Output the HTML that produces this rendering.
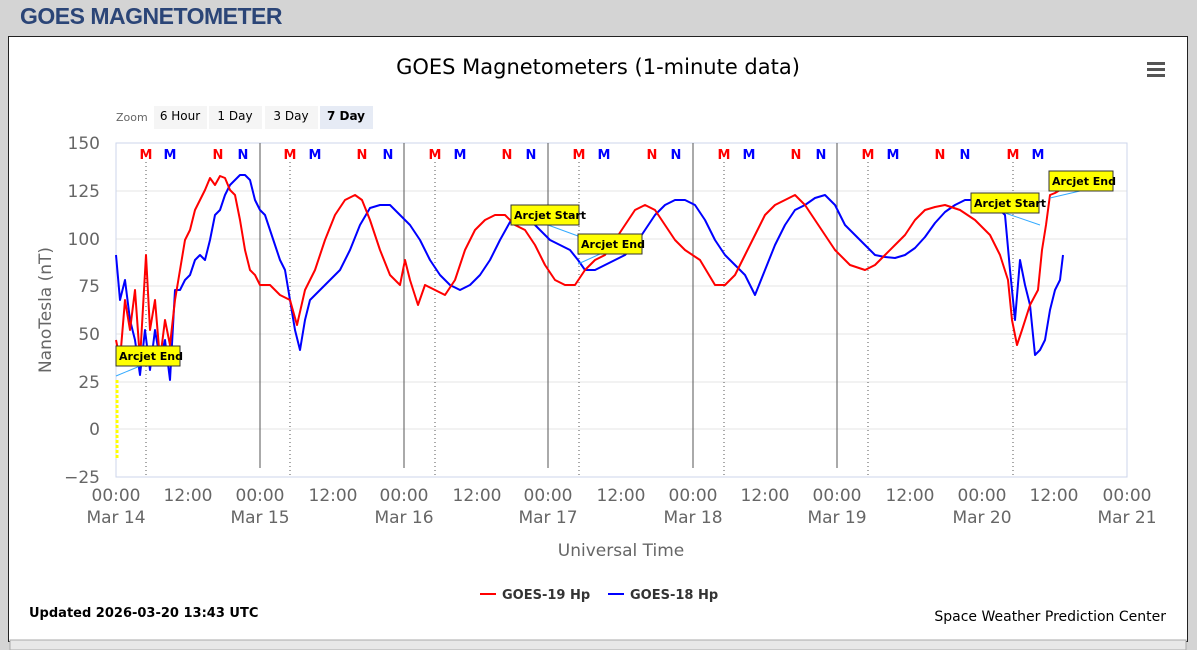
<!DOCTYPE html>
<html><head><style>
body{margin:0;width:1197px;height:650px;background:#d4d4d4;overflow:hidden;font-family:"DejaVu Sans","Liberation Sans",sans-serif;}
.h{position:absolute;left:20px;top:3px;font:bold 23px "Liberation Sans",sans-serif;color:#2b4577;letter-spacing:-0.5px}
.panel{position:absolute;left:8px;top:36px;width:1178px;height:604px;background:#fff;border:1px solid #222;}
svg{position:absolute;left:0;top:0}
</style></head><body>
<div class="h">GOES MAGNETOMETER</div>
<div class="panel"></div>
<svg width="1197" height="650" font-family="DejaVu Sans, Liberation Sans, sans-serif">
<rect x="10" y="640" width="1176" height="10" fill="#e8e8e8" stroke="#aaa"/>
<text x="598" y="74" font-size="21" text-anchor="middle" fill="#000">GOES Magnetometers (1-minute data)</text>
<g fill="#555"><rect x="1147" y="62" width="18" height="3"/><rect x="1147" y="68" width="18" height="3"/><rect x="1147" y="74" width="18" height="3"/></g>
<text x="116" y="121" font-size="11" fill="#666">Zoom</text>
<rect x="154" y="106" width="53" height="23" fill="#f5f5f5"/><text x="180" y="120" font-size="12" text-anchor="middle">6 Hour</text>
<rect x="209" y="106" width="53" height="23" fill="#f5f5f5"/><text x="235" y="120" font-size="12" text-anchor="middle">1 Day</text>
<rect x="265" y="106" width="53" height="23" fill="#f5f5f5"/><text x="291" y="120" font-size="12" text-anchor="middle">3 Day</text>
<rect x="320" y="106" width="53" height="23" fill="#e6ebf5"/><text x="346" y="120" font-size="12" font-weight="bold" text-anchor="middle">7 Day</text>
<g stroke="#e6e6e6"><line x1="116" x2="1127" y1="191" y2="191"/><line x1="116" x2="1127" y1="239" y2="239"/><line x1="116" x2="1127" y1="286" y2="286"/><line x1="116" x2="1127" y1="334" y2="334"/><line x1="116" x2="1127" y1="382" y2="382"/><line x1="116" x2="1127" y1="429" y2="429"/></g>
<rect x="116" y="143" width="1011" height="334" fill="none" stroke="#ccd6eb"/>
<g fill="#666" font-size="17" text-anchor="end"><text x="100" y="149">150</text><text x="100" y="197">125</text><text x="100" y="245">100</text><text x="100" y="292">75</text><text x="100" y="340">50</text><text x="100" y="388">25</text><text x="100" y="435">0</text><text x="100" y="483">−25</text></g>
<text transform="translate(51,310) rotate(-90)" font-size="17" fill="#666" text-anchor="middle">NanoTesla (nT)</text>
<g stroke="#555"><line x1="260" x2="260" y1="143" y2="468"/><line x1="404" x2="404" y1="143" y2="468"/><line x1="548" x2="548" y1="143" y2="468"/><line x1="693" x2="693" y1="143" y2="468"/><line x1="837" x2="837" y1="143" y2="468"/></g>
<g stroke="#555" stroke-dasharray="1,3"><line x1="146" x2="146" y1="162" y2="477"/><line x1="290" x2="290" y1="162" y2="477"/><line x1="435" x2="435" y1="162" y2="477"/><line x1="579" x2="579" y1="162" y2="477"/><line x1="724" x2="724" y1="162" y2="477"/><line x1="868" x2="868" y1="162" y2="477"/><line x1="1013" x2="1013" y1="162" y2="477"/></g>
<g font-size="13" font-weight="bold" text-anchor="middle">
<g fill="#f00"><text x="146" y="159">M</text><text x="218" y="159">N</text><text x="290" y="159">M</text><text x="362" y="159">N</text><text x="435" y="159">M</text><text x="507" y="159">N</text><text x="579" y="159">M</text><text x="652" y="159">N</text><text x="724" y="159">M</text><text x="796" y="159">N</text><text x="868" y="159">M</text><text x="940" y="159">N</text><text x="1013" y="159">M</text></g>
<g fill="#00f"><text x="170" y="159">M</text><text x="243" y="159">N</text><text x="315" y="159">M</text><text x="388" y="159">N</text><text x="460" y="159">M</text><text x="531" y="159">N</text><text x="604" y="159">M</text><text x="676" y="159">N</text><text x="749" y="159">M</text><text x="821" y="159">N</text><text x="893" y="159">M</text><text x="965" y="159">N</text><text x="1038" y="159">M</text></g></g>
<line x1="117" x2="117" y1="380" y2="460" stroke="#ff0" stroke-width="3" stroke-dasharray="3,2"/>
<polyline fill="none" stroke="#00f" stroke-width="2" stroke-linejoin="round" points="116,255 120,300 125,280 130,320 135,340 140,375 145,330 150,370 155,330 160,360 165,340 170,380 175,290 180,290 185,280 190,275 195,260 200,255 205,260 210,240 215,215 220,210 225,195 230,185 235,180 240,175 245,175 250,180 255,200 260,210 265,215 270,230 275,245 280,260 285,270 290,300 295,330 300,350 305,320 310,300 320,290 330,280 340,270 350,250 360,225 370,208 380,205 390,205 400,215 410,225 420,240 430,260 440,275 450,285 460,290 470,285 480,275 490,260 500,240 510,222 520,215 530,220 540,230 550,240 560,245 570,250 578,260 585,270 595,270 605,265 615,260 625,255 635,245 645,230 655,215 665,205 675,200 685,200 695,205 705,220 715,240 725,255 735,265 745,275 755,295 765,270 775,245 785,225 795,210 805,205 815,198 825,195 835,205 845,225 855,235 865,245 875,255 885,257 895,258 905,255 915,248 925,237 935,223 945,212 955,205 965,200 975,200 985,200 995,205 1005,215 1010,270 1015,320 1020,260 1025,285 1030,305 1035,355 1040,350 1045,340 1050,310 1055,290 1060,280 1063,255"/>
<polyline fill="none" stroke="#f00" stroke-width="2" stroke-linejoin="round" points="116,340 120,360 125,300 130,330 135,290 140,360 146,255 150,330 155,300 160,360 165,320 170,345 175,300 180,270 185,240 190,230 195,210 200,200 205,190 210,178 215,185 220,176 225,178 230,190 235,195 240,220 245,250 250,270 255,275 260,285 270,285 280,295 290,300 297,325 305,290 315,270 325,240 335,215 345,200 355,195 362,200 370,220 380,250 390,275 400,285 405,260 410,280 418,305 425,285 435,290 445,295 455,280 465,250 475,230 485,220 495,215 505,215 515,225 525,230 535,245 545,265 555,280 565,285 575,285 585,270 595,260 605,255 615,240 625,225 635,210 645,205 655,210 665,225 675,240 685,250 700,260 715,285 725,285 735,275 745,255 755,235 765,215 775,205 785,200 795,195 805,205 815,220 825,235 835,250 850,265 865,270 875,265 885,255 895,245 905,235 915,220 925,210 935,207 945,205 960,210 975,220 990,235 1000,255 1008,280 1012,320 1017,345 1022,330 1030,305 1038,290 1042,250 1046,225 1050,195 1055,193 1060,190"/>
<g font-size="11" font-weight="bold" stroke-width="1">
<line x1="116" y1="376" x2="140" y2="366" stroke="#3af"/>
<rect x="116" y="346" width="64" height="20" fill="#ff0" stroke="#333"/><text x="119" y="360">Arcjet End</text>
<line x1="548" y1="225" x2="578" y2="236" stroke="#3af"/>
<rect x="511" y="205" width="68" height="20" fill="#ff0" stroke="#333"/><text x="514" y="219">Arcjet Start</text>
<line x1="578" y1="264" x2="600" y2="254" stroke="#3af"/>
<rect x="578" y="234" width="64" height="20" fill="#ff0" stroke="#333"/><text x="581" y="248">Arcjet End</text>
<line x1="1005" y1="213" x2="1040" y2="225" stroke="#3af"/>
<rect x="971" y="193" width="68" height="20" fill="#ff0" stroke="#333"/><text x="974" y="207">Arcjet Start</text>
<line x1="1050" y1="198" x2="1080" y2="191" stroke="#3af"/>
<rect x="1049" y="171" width="64" height="20" fill="#ff0" stroke="#333"/><text x="1052" y="185">Arcjet End</text>
</g>
<g fill="#666" font-size="17" text-anchor="middle">
<text x="116" y="501">00:00</text><text x="116" y="523">Mar 14</text>
<text x="188" y="501">12:00</text>
<text x="260" y="501">00:00</text><text x="260" y="523">Mar 15</text>
<text x="333" y="501">12:00</text>
<text x="404" y="501">00:00</text><text x="404" y="523">Mar 16</text>
<text x="477" y="501">12:00</text>
<text x="548" y="501">00:00</text><text x="548" y="523">Mar 17</text>
<text x="621" y="501">12:00</text>
<text x="693" y="501">00:00</text><text x="693" y="523">Mar 18</text>
<text x="765" y="501">12:00</text>
<text x="837" y="501">00:00</text><text x="837" y="523">Mar 19</text>
<text x="910" y="501">12:00</text>
<text x="982" y="501">00:00</text><text x="982" y="523">Mar 20</text>
<text x="1054" y="501">12:00</text>
<text x="1127" y="501">00:00</text><text x="1127" y="523">Mar 21</text>
<text x="621" y="556">Universal Time</text>
</g>
<line x1="480" x2="496" y1="594" y2="594" stroke="#f00" stroke-width="2"/>
<text x="502" y="599" font-size="13" font-weight="bold" fill="#333">GOES-19 Hp</text>
<line x1="608" x2="624" y1="594" y2="594" stroke="#00f" stroke-width="2"/>
<text x="630" y="599" font-size="13" font-weight="bold" fill="#333">GOES-18 Hp</text>
<text x="29" y="617" font-size="13" font-weight="bold" fill="#000">Updated 2026-03-20 13:43 UTC</text>
<text x="1166" y="621" font-size="14" text-anchor="end" fill="#000">Space Weather Prediction Center</text>
</svg>
</body></html>
